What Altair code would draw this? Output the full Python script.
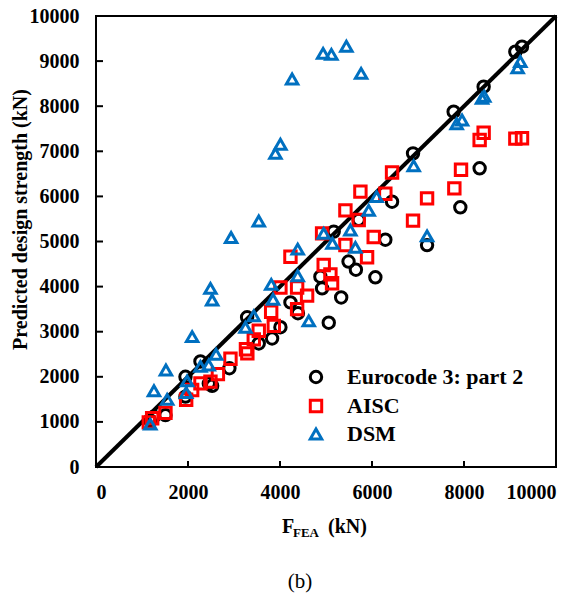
import altair as alt
import pandas as pd

# ---------------- data ----------------
ec_x = [1170, 1256, 1510, 1945, 1945, 2271, 2452, 2525, 2900, 3285, 3538, 3828, 4009,
        4227, 4390, 4878, 4915, 5060, 5168, 5330, 5490, 5650, 5711, 6073, 6290, 6436,
        6892, 7197, 7775, 7920, 8340, 8427, 9116, 9261]
ec_y = [1040, 1115, 1150, 1560, 2000, 2340, 1850, 1800, 2190, 3320, 2740, 2850, 3100,
        3650, 3410, 4220, 3960, 3200, 5220, 3760, 4555, 4375, 5480, 4206, 5040, 5883,
        6955, 4920, 7878, 5758, 6623, 8432, 9209, 9320]

aisc_x = [1148, 1221, 1510, 1960, 2090, 2271, 2488, 2650, 2923, 3260, 3290, 3430, 3538,
          3865, 3808, 4009, 4227, 4372, 4372, 4589, 4950, 5096, 5132, 4915, 5422, 5422,
          5711, 5748, 5893, 6037, 6290, 6436, 6892, 7197, 7790, 7935, 8340, 8427, 9116, 9261]
aisc_y = [990, 1080, 1200, 1490, 1707, 1855, 1892, 2060, 2400, 2610, 2520, 2830, 3020,
          3130, 3444, 3980, 4663, 3500, 3980, 3800, 4480, 4270, 4073, 5181, 4922, 5690,
          5477, 6105, 4650, 5100, 6060, 6530, 5462, 5957, 6179, 6590, 7250, 7412, 7280, 7290]

dsm_x = [1180, 1260, 1520, 1547, 1960, 1981, 2090, 2270, 2450, 2488, 2525, 2610, 2937,
         3249, 3430, 3538, 3810, 3850, 3900, 4009, 4263, 4385, 4385, 4625, 4937, 4950,
         5117, 5140, 5443, 5530, 5639, 5763, 5928, 6100, 6906, 7197, 7840, 7957, 8392,
         8440, 9166, 9224]
dsm_y = [950, 1690, 2150, 1500, 1650, 1910, 2890, 2230, 2262, 3962, 3703, 2500, 5090,
         3100, 3350, 5455, 4050, 3720, 6955, 7155, 8603, 4240, 4830, 3240, 9172, 5181,
         9150, 4960, 9330, 5255, 4871, 8729, 5690, 5995, 6680, 5125, 7610, 7694, 8175,
         8220, 8850, 8990]

series_names = ["Eurocode 3: part 2", "AISC", "DSM"]
series_colors = ["#000000", "#ff0000", "#0070c0"]
series_shapes = ["circle", "square", "triangle-up"]

x_ticks = [0, 2000, 4000, 6000, 8000, 10000]
y_ticks = [0, 1000, 2000, 3000, 4000, 5000, 6000, 7000, 8000, 9000, 10000]
x_inner_ticks = [2000, 4000, 6000, 8000]
y_inner_ticks = [1000, 2000, 3000, 4000, 5000, 6000, 7000, 8000, 9000]
ref_line = [0, 10000]

y_title = "Predicted design strength (kN)"
x_title_main = "F"
x_title_sub = "FEA"
x_title_unit = "(kN)"
caption = "(b)"

# ---------------- build ----------------
FONT = "Liberation Serif"
W, H = 460, 451

df = pd.concat([
    pd.DataFrame({"x": ec_x, "y": ec_y, "series": series_names[0]}),
    pd.DataFrame({"x": aisc_x, "y": aisc_y, "series": series_names[1]}),
    pd.DataFrame({"x": dsm_x, "y": dsm_y, "series": series_names[2]}),
], ignore_index=True)

xscale = alt.Scale(domain=[0, 10000], nice=False, zero=True)
yscale = alt.Scale(domain=[0, 10000], nice=False, zero=True)

x_axis = alt.Axis(values=x_ticks, ticks=False, domain=False, grid=False, title=None,
                  labelFont=FONT, labelFontWeight="bold", labelFontSize=20,
                  labelColor="black", labelPadding=15, format="d")
y_axis = alt.Axis(values=y_ticks, ticks=False, domain=False, grid=False, title=y_title,
                  labelFont=FONT, labelFontWeight="bold", labelFontSize=20,
                  labelColor="black", labelPadding=17, format="d",
                  titleFont=FONT, titleFontWeight="bold", titleFontSize=20,
                  titleColor="black", titleX=-76, titleY=203, titleAngle=270,
                  titleAlign="center", titleBaseline="middle")

X = alt.X("x:Q", scale=xscale, axis=x_axis)
Y = alt.Y("y:Q", scale=yscale, axis=y_axis)

leg = alt.Legend(orient="none", legendX=209, legendY=350, title=None,
                 labelFont=FONT, labelFontWeight="bold", labelFontSize=22,
                 labelColor="black", symbolStrokeWidth=3, symbolSize=130,
                 labelOffset=20, rowPadding=5, padding=0, labelLimit=400)

line = alt.Chart(pd.DataFrame({"x": ref_line, "y": ref_line})).mark_line(
    color="black", strokeWidth=4).encode(x=X, y=Y)

yt = alt.Chart(pd.DataFrame({"y": y_inner_ticks})).mark_rule(
    color="black", strokeWidth=2).encode(y=Y, x=alt.value(0), x2=alt.value(7))
xt = alt.Chart(pd.DataFrame({"x": x_inner_ticks})).mark_rule(
    color="black", strokeWidth=2).encode(x=X, y=alt.value(H), y2=alt.value(H - 6))

points = alt.Chart(df).mark_point(filled=False, strokeWidth=3, size=130, opacity=1).encode(
    x=X, y=Y,
    color=alt.Color("series:N", scale=alt.Scale(domain=series_names, range=series_colors), legend=leg),
    shape=alt.Shape("series:N", scale=alt.Scale(domain=series_names, range=series_shapes), legend=leg),
)

def txt(s, x, y, size, weight="bold", align="left"):
    return alt.Chart(pd.DataFrame({"t": [s]})).mark_text(
        font=FONT, fontSize=size, fontWeight=weight, color="black",
        align=align, baseline="middle").encode(
        text="t:N", x=alt.value(x), y=alt.value(y))

t1 = txt(x_title_main, 186, 511, 20)
t2 = txt(x_title_sub, 197, 517, 13)
t3 = txt(x_title_unit, 232, 511, 20)
t4 = txt(caption, 204, 566, 21, weight="normal", align="center")

chart = alt.layer(line, yt, xt, points, t1, t2, t3, t4).properties(
    width=W, height=H,
    autosize=alt.AutoSizeParams(type="none"),
    padding={"left": 96, "top": 16, "right": 26, "bottom": 129},
    background="white",
).configure_view(stroke="black", strokeWidth=2)

chart.save("out.html", embed_options={"renderer": "svg", "actions": False})
